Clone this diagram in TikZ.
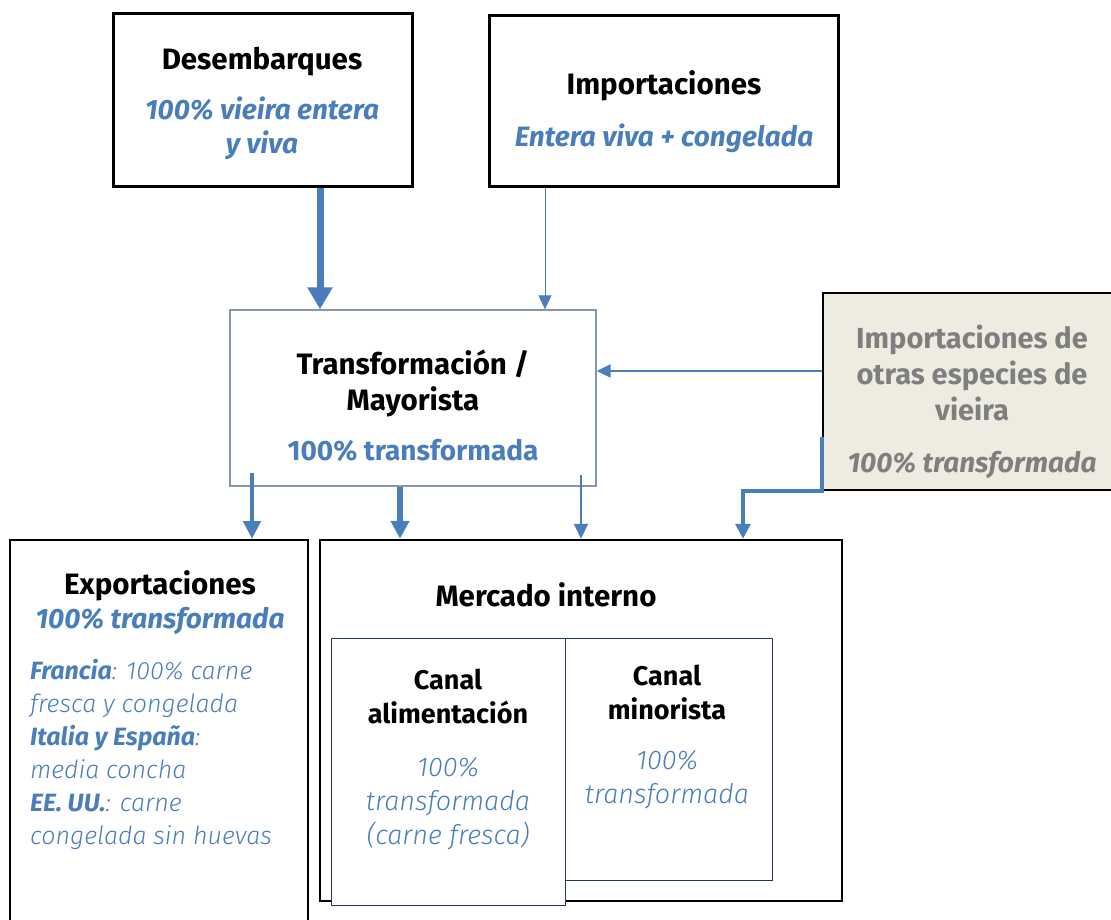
\documentclass[tikz,border=0pt]{standalone}
\usepackage{fontspec}
\setmainfont{Fira Sans}
\newfontfamily\lightfont{Fira Sans Light}
\usetikzlibrary{arrows.meta,positioning}
\definecolor{eublue}{HTML}{4A7EBB}
\definecolor{graytext}{HTML}{7F7F7F}
\definecolor{sand}{HTML}{EEEBE1}
\definecolor{transedge}{HTML}{8497B0}
\definecolor{navy}{HTML}{203864}
\newcommand{\hd}[1]{{\fontsize{29.5}{36}\selectfont\bfseries #1}}
\newcommand{\bluebi}[1]{{\fontsize{28}{34}\selectfont\color{eublue}\bfseries\itshape #1}}
\newcommand{\lightit}[1]{{\lightfont\itshape #1}}
\begin{document}
\fontsize{27}{34}\selectfont
\begin{tikzpicture}[x=1pt, y=-1pt, inner sep=0pt,
  box/.style = {draw, line width=2.5pt, fill=white},
  canal/.style = {draw=navy, line width=1pt, fill=white},
  txt/.style = {align=center},
  flow/.style = {draw=eublue, line width=#1}]
\useasboundingbox (0,0) rectangle (1111,920);

% boxes
\node[box, line width=3pt, minimum width=299, minimum height=173] (desemb) at (262.5,100.5) {};
\node[box, line width=3pt, minimum width=349, minimum height=171] (impo) at (663.5,101.5) {};
\node[box, draw=transedge, line width=1.3pt, minimum width=366, minimum height=176] (trans) at (413,398) {};
\node[box, fill=sand, line width=2pt, minimum width=297, minimum height=197] (otras) at (971.5,391.5) {};
\node[box, line width=2pt, minimum width=298, minimum height=390] (export) at (159,735) {};
\node[box, minimum width=522, minimum height=361] (merc) at (581,720.5) {};
\node[canal, minimum width=207, minimum height=242] (mino) at (668.5,759) {};
\node[canal, minimum width=234, minimum height=267] (alim) at (448,771.5) {};

% texts
\node[txt] (desembT) at (262,103) {\hd{Desembarques}\\[16pt]\bluebi{100\% vieira entera}\\\bluebi{y viva}};
\node[txt] (impoT) at (664,112) {\hd{Importaciones}\\[18pt]\bluebi{Entera viva + congelada}};
\node[txt, font=\fontsize{29.5}{36}\selectfont\bfseries] (transT) at (413,406)
  {Transformación /\\Mayorista\\[14pt]{\fontsize{28}{34}\selectfont\color{eublue}100\% transformada}};
\node[txt, text=graytext, font=\fontsize{29}{36}\selectfont\bfseries] (otrasT) at (972,402)
  {Importaciones de\\otras especies de\\vieira\\[16pt]{\fontsize{28}{34}\selectfont\itshape 100\% transformada}};
\node[txt] (exportT) at (160,603) {\hd{Exportaciones}\\\bluebi{100\% transformada}};
\node[align=left, anchor=west, text=eublue, font=\fontsize{25}{33}\selectfont] (exportB) at (30,754)
  {\textbf{\textit{Francia}}\lightit{: 100\% carne}\\
   \lightit{fresca y congelada}\\
   \textbf{\textit{Italia y España}}\lightit{:}\\
   \lightit{media concha}\\
   \textbf{\textit{EE. UU.}}\lightit{: carne}\\
   \lightit{congelada sin huevas}};
\node[anchor=base] (mercT) at (546,606) {\hd{Mercado interno}};
\node[txt] (alimT) at (448,760) {\textbf{Canal}\\\textbf{alimentación}\\[19pt]\textcolor{eublue}{\lightit{100\%}}\\\textcolor{eublue}{\lightit{transformada}}\\\textcolor{eublue}{\lightit{(carne fresca)}}};
\node[txt] (minoT) at (667,737) {\textbf{Canal}\\\textbf{minorista}\\[16pt]\textcolor{eublue}{\lightit{100\%}}\\\textcolor{eublue}{\lightit{transformada}}};

% flows
\draw[flow=7pt, -{Triangle[width=24pt,length=22pt]}] (desemb.south -| 320,0) -- (trans.north -| 320,0);
\draw[flow=1pt, -{Triangle[width=13pt,length=14pt]}] (impo.south -| 545,0) -- (trans.north -| 545,0);
\draw[flow=2pt, -{Triangle[width=13pt,length=14pt]}] (otras.west |- 0,371) -- (trans.east |- 0,371);
\draw[flow=4.5pt, -{Triangle[width=17pt,length=18pt]}] (trans.south -| 252,0) ++(0,-14) -- (export.north -| 252,0);
\draw[flow=5.5pt, -{Triangle[width=18pt,length=18pt]}] (trans.south -| 400,0) -- (merc.north -| 400,0);
\draw[flow=2pt, -{Triangle[width=14pt,length=15pt]}] (trans.south -| 581,0) ++(0,-12) -- (merc.north -| 581,0);
\draw[flow=3.5pt, -{Triangle[width=15pt,length=15pt]}] (otras.west |- 0,437) -- (otras.south west) -| (merc.north -| 743,0);
\end{tikzpicture}
\end{document}
